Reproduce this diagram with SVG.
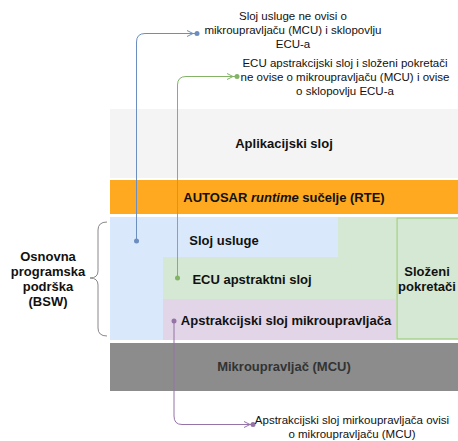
<svg xmlns="http://www.w3.org/2000/svg" width="458" height="441" viewBox="0 0 458 441">
<style>
.t{font-family:"Liberation Sans",Arial,sans-serif;font-weight:bold;font-size:13px;fill:#111;text-anchor:middle}
.c{font-family:"Liberation Sans",Arial,sans-serif;font-size:11.5px;fill:#111;text-anchor:middle}
.ln{fill:none;stroke-width:1}
</style>
<rect width="458" height="441" fill="#ffffff"/>
<g id="app"><rect x="110" y="109" width="348" height="69" fill="#f4f4f4"/><text class="t" x="284" y="148">Aplikacijski sloj</text></g>
<g id="rte"><rect x="110" y="180" width="348" height="34" fill="#fea91f"/><text class="t" x="284" y="202">AUTOSAR <tspan font-style="italic" font-weight="bold">runtime</tspan> sučelje (RTE)</text></g>
<g id="service"><path d="M110 217H338V257H163V340H110Z" fill="#dae8fc"/><text class="t" x="224" y="245">Sloj usluge</text></g>
<g id="ecu"><path d="M338 217H396V299H163V257H338Z" fill="#d5e8d4"/><text class="t" x="252" y="284">ECU apstraktni sloj</text></g>
<g id="mcal"><rect x="163" y="299" width="233" height="41" fill="#e1d5e7"/><text class="t" x="286" y="325">Apstrakcijski sloj mikroupravljača</text></g>
<g id="cdd"><rect x="397" y="218" width="62" height="121" fill="#d5e8d4" stroke="#a9d18e" stroke-width="1.5"/><text class="t" x="427" y="276">Složeni</text><text class="t" x="427" y="291">pokretači</text></g>
<g id="mcu"><rect x="110" y="343" width="348" height="48" fill="#8c8c8c"/><text class="t" x="284" y="371" style="fill:#333">Mikroupravljač (MCU)</text></g>
<g id="bsw"><path d="M107 222Q98 222 98 230V271Q98 278 90 278Q98 278 98 285V328Q98 336 107 336" fill="none" stroke="#888" stroke-width="1"/><text class="t" x="48" y="261">Osnovna</text><text class="t" x="48" y="276">programska</text><text class="t" x="48" y="291">podrška</text><text class="t" x="48" y="306">(BSW)</text></g>
<g id="connectors">
<path class="ln" stroke="#6c8ebf" d="M136.5 241V42Q136.5 33.5 145 33.5H195"/>
<circle cx="136.5" cy="241" r="2.5" fill="#6c8ebf"/>
<path class="ln" stroke="#6c8ebf" d="M187 30.5L193 33.5L187 36.5"/>
<circle cx="197" cy="33.5" r="2.5" fill="#6c8ebf"/>
<path class="ln" stroke="#82b366" d="M177.5 278V85Q177.5 76.5 186 76.5H235"/>
<circle cx="177.5" cy="278" r="2.5" fill="#82b366"/>
<path class="ln" stroke="#82b366" d="M227 73.5L233 76.5L227 79.5"/>
<circle cx="237" cy="76.5" r="2.5" fill="#82b366"/>
<path class="ln" stroke="#9673a6" d="M174 321V416Q174 424.5 182 424.5H251"/>
<circle cx="174" cy="321" r="2.5" fill="#9673a6"/>
<path class="ln" stroke="#9673a6" d="M244 421.5L250 424.5L244 427.5"/>
<circle cx="253" cy="424.5" r="2.5" fill="#9673a6"/>
</g>
<g id="notes">
<text class="c" x="293" y="20">Sloj usluge ne ovisi o</text>
<text class="c" x="293" y="34">mikroupravljaču (MCU) i sklopovlju</text>
<text class="c" x="293" y="48">ECU-a</text>
<text class="c" x="345" y="67">ECU apstrakcijski sloj i složeni pokretači</text>
<text class="c" x="345" y="81">ne ovise o mikroupravljaču (MCU) i ovise</text>
<text class="c" x="345" y="95">o sklopovlju ECU-a</text>
<text class="c" x="352" y="424">Apstrakcijski sloj mirkoupravljača ovisi</text>
<text class="c" x="352" y="438">o mikroupravljaču (MCU)</text>
</g>
</svg>
